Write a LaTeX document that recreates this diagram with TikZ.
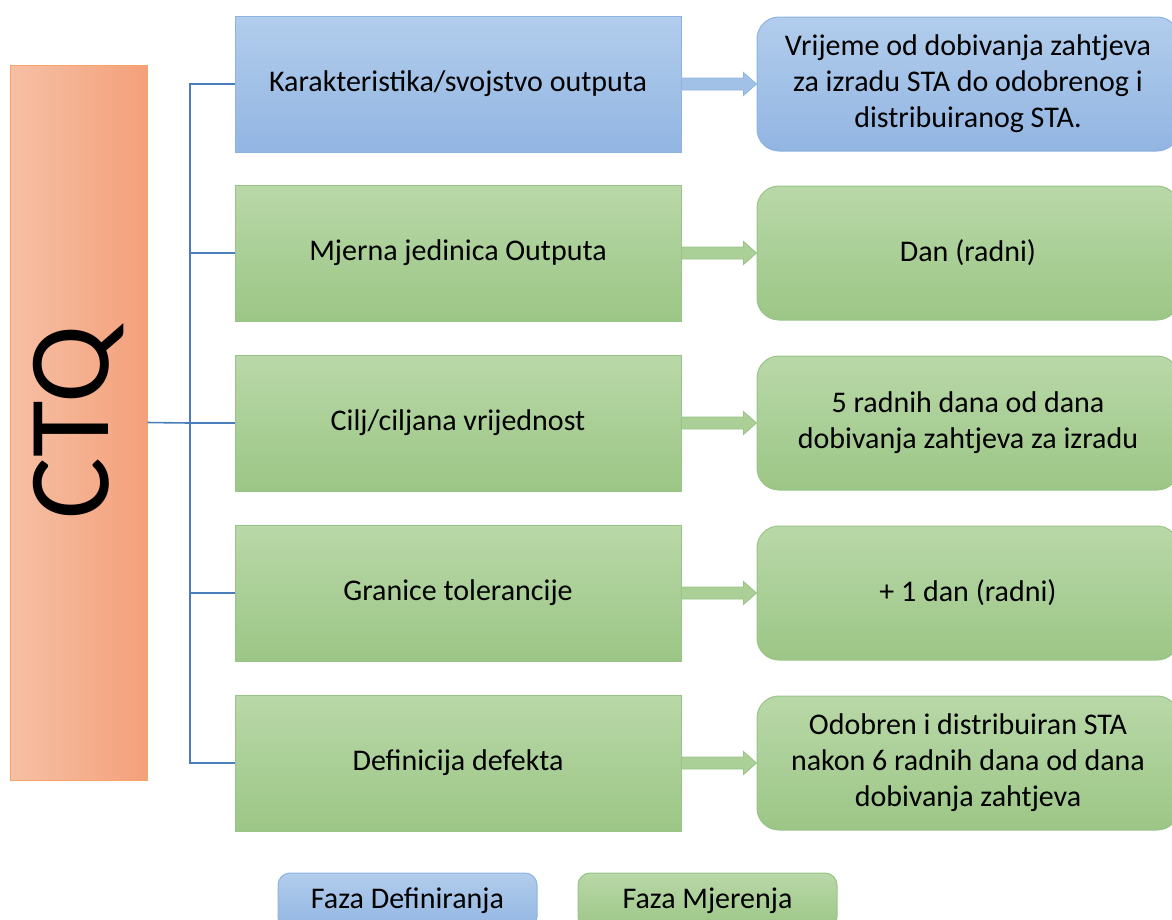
\documentclass[tikz,border=0pt]{standalone}
\usepackage{fontspec}
\setmainfont{Carlito}
\usetikzlibrary{positioning}
\definecolor{ctqlight}{HTML}{F6C0A5}
\definecolor{ctqdark}{HTML}{F4A07A}
\definecolor{ctqline}{HTML}{F7A468}
\definecolor{bluetop}{HTML}{B2CDEC}
\definecolor{bluebot}{HTML}{92B5E2}
\definecolor{blueline}{HTML}{8DB3E2}
\definecolor{greentop}{HTML}{B9D8A8}
\definecolor{greenbot}{HTML}{9CC686}
\definecolor{greenline}{HTML}{98C488}
\definecolor{forkline}{HTML}{4A7EBB}
\definecolor{bluefill}{HTML}{A2C1E7}
\definecolor{greenfill}{HTML}{AACF97}
\begin{document}
\begin{tikzpicture}[x=1pt,y=-1pt,
  txt/.style={font=\fontsize{30}{36}\selectfont,align=center,text=black},
  kbox/.style={txt,minimum width=446pt,minimum height=136pt,inner sep=0pt},
  vbox/.style={txt,minimum width=422pt,minimum height=134pt,inner sep=0pt,rounded corners=22pt},
  blue/.style={top color=bluetop,bottom color=bluebot,draw=blueline,line width=1pt},
  green/.style={top color=greentop,bottom color=greenbot,draw=greenline,line width=1pt}]
\clip (0,0) rectangle (1172,919);
% CTQ
\node[rotate=90,minimum width=715pt,minimum height=137pt,left color=ctqlight,right color=ctqdark,
  draw=ctqline,line width=1pt,font=\fontsize{116}{120}\selectfont] (ctq) at (78.5,422.5) {CTQ};
% lijevi stupac
\node[kbox,blue] (k1) at (458,84) {Karakteristika/svojstvo outputa};
\node[kbox,green] (k2) at (458,253) {Mjerna jedinica Outputa};
\node[kbox,green] (k3) at (458,423) {Cilj/ciljana vrijednost};
\node[kbox,green] (k4) at (458,593) {Granice tolerancije};
\node[kbox,green] (k5) at (458,763) {Definicija defekta};
% desni stupac
\node[vbox,blue,right=75pt of k1] (v1) {Vrijeme od dobivanja zahtjeva\\za izradu STA do odobrenog i\\distribuiranog STA.};
\node[vbox,green,right=75pt of k2] (v2) {Dan (radni)};
\node[vbox,green,right=75pt of k3] (v3) {5 radnih dana od dana\\dobivanja zahtjeva za izradu};
\node[vbox,green,right=75pt of k4] (v4) {+ 1 dan (radni)};
\node[vbox,green,right=75pt of k5] (v5) {Odobren i distribuiran STA\\nakon 6 radnih dana od dana\\dobivanja zahtjeva};
% grananje
\coordinate (fork) at (190,423);
\draw[forkline,line width=1.6pt] (ctq.south) -- (fork);
\foreach \i in {1,...,5}
    \draw[forkline,line width=1.6pt] (fork) |- (k\i.west);
% strelice
\foreach \i/\c in {1/blue,2/green,3/green,4/green,5/green}
    \draw[fill=\c fill,draw=\c line,line width=0.8pt]
      ([yshift=6pt]k\i.east) -- ([xshift=-13pt,yshift=6pt]v\i.west)
      -- ([xshift=-13pt,yshift=11.5pt]v\i.west) -- (v\i.west)
      -- ([xshift=-13pt,yshift=-11.5pt]v\i.west) -- ([xshift=-13pt,yshift=-6pt]v\i.west)
      -- ([yshift=-6pt]k\i.east) -- cycle;
% legenda
\node[txt,blue,rounded corners=12pt,minimum width=259pt,minimum height=56pt] (leg1) at (407.5,901) {Faza Definiranja};
\node[txt,green,rounded corners=12pt,minimum width=259pt,minimum height=56pt] (leg2) at (707.5,901) {Faza Mjerenja};
\end{tikzpicture}
\end{document}
